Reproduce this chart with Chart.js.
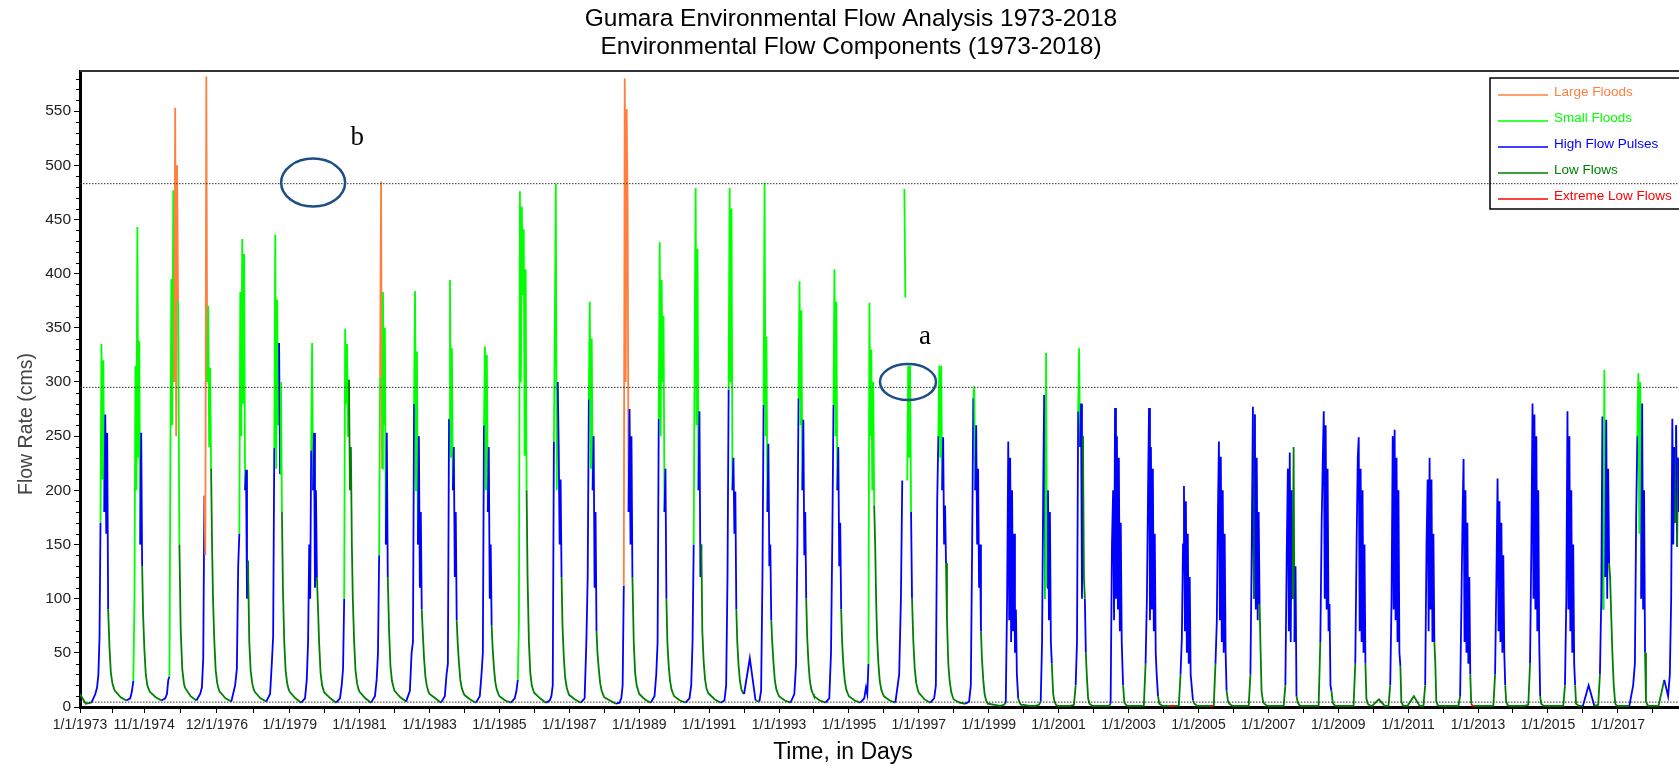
<!DOCTYPE html>
<html>
<head>
<meta charset="utf-8">
<script src="https://cdn.jsdelivr.net/npm/chart.js@4.4.1/dist/chart.umd.min.js"></script>
<style>
  html, body { margin: 0; padding: 0; background: #fff; }
  #wrap { width: 1679px; height: 766px; position: relative; }
</style>
</head>
<body>
<div id="wrap"><canvas id="flowChart"></canvas></div>
<script>
const FONT = "'Liberation Sans', Arial, sans-serif";

// one hydrograph per year, sampled on the same day-of-year grid
const dayGrid = [0, 60, 120, 160, 178, 192, 204, 214, 224, 234, 244, 254, 264, 274, 284, 294, 308, 322, 338, 355];

const years = [1973, 1974, 1975, 1976, 1977, 1978, 1979, 1980, 1981, 1982, 1983, 1984, 1985, 1986, 1987, 1988,
  1989, 1990, 1991, 1992, 1993, 1994, 1995, 1996, 1997, 1998, 1999, 2000, 2001, 2002, 2003, 2004, 2005, 2006,
  2007, 2008, 2009, 2010, 2011, 2012, 2013, 2014, 2015, 2016, 2017, 2018];

// flow rate (cms)
const yearFlows = [
  [12, 3, 4, 12, 18, 30, 65, 170, 335, 210, 320, 180, 270, 160, 253, 90, 55, 32, 22, 17],        // 1973
  [15, 9, 6, 8, 15, 24, 100, 315, 200, 443, 230, 338, 150, 253, 130, 85, 52, 30, 20, 16],        // 1974
  [14, 9, 6, 8, 12, 25, 28, 230, 395, 260, 477, 300, 553, 250, 500, 375, 150, 70, 35, 22],       // 1975
  [18, 10, 6, 12, 18, 45, 195, 140, 582, 300, 370, 240, 313, 220, 150, 100, 60, 34, 22, 16],     // 1976
  [14, 8, 5, 20, 35, 130, 160, 383, 250, 432, 280, 418, 200, 219, 100, 135, 60, 34, 22, 16],     // 1977
  [14, 8, 5, 12, 40, 65, 239, 436, 220, 376, 260, 336, 215, 300, 180, 110, 60, 34, 22, 16],      // 1978
  [14, 8, 4, 8, 25, 60, 150, 100, 237, 336, 200, 253, 110, 200, 120, 95, 58, 32, 20, 15],        // 1979
  [13, 8, 4, 8, 20, 35, 100, 349, 280, 335, 250, 302, 200, 240, 150, 100, 60, 34, 22, 16],       // 1980
  [14, 8, 4, 10, 25, 50, 140, 305, 485, 220, 383, 260, 350, 150, 253, 120, 70, 38, 24, 18],      // 1981
  [15, 9, 5, 15, 50, 60, 280, 384, 200, 328, 150, 250, 110, 180, 90, 70, 45, 28, 19, 14],        // 1982
  [12, 8, 4, 10, 30, 40, 266, 394, 230, 331, 200, 240, 120, 180, 80, 60, 40, 25, 17, 13],        // 1983
  [11, 7, 4, 10, 30, 50, 260, 333, 200, 325, 180, 240, 100, 150, 75, 55, 36, 23, 16, 12],        // 1984
  [10, 6, 4, 8, 15, 25, 80, 476, 300, 462, 380, 441, 232, 404, 200, 120, 60, 32, 20, 15],        // 1985
  [13, 8, 4, 6, 10, 20, 245, 353, 483, 200, 300, 240, 150, 210, 120, 75, 45, 27, 18, 13],        // 1986
  [11, 7, 4, 8, 60, 120, 284, 374, 220, 340, 200, 250, 110, 180, 70, 50, 35, 22, 15, 11],        // 1987
  [9, 6, 3, 4, 8, 20, 112, 580, 300, 552, 466, 180, 275, 150, 250, 120, 60, 32, 20, 15],         // 1988
  [12, 7, 4, 10, 30, 60, 266, 429, 250, 394, 300, 361, 180, 220, 100, 60, 38, 24, 16, 12],       // 1989
  [10, 6, 4, 8, 20, 60, 150, 330, 479, 260, 423, 200, 273, 120, 150, 70, 42, 26, 17, 13],        // 1990
  [12, 7, 4, 6, 20, 120, 293, 479, 300, 460, 200, 230, 160, 199, 90, 60, 38, 24, 16, 13],        // 1991
  [12, 45, 6, 5, 15, 120, 279, 484, 250, 342, 180, 243, 130, 150, 80, 60, 40, 24, 16, 12],       // 1992
  [10, 6, 4, 12, 40, 150, 285, 393, 260, 366, 200, 265, 140, 180, 100, 65, 40, 24, 16, 12],      // 1993
  [10, 6, 4, 8, 50, 160, 279, 404, 250, 374, 200, 240, 130, 170, 90, 60, 38, 24, 16, 12],        // 1994
  [10, 6, 4, 8, 18, 12, 40, 373, 250, 330, 200, 300, 186, 150, 100, 65, 40, 24, 16, 12],         // 1995
  [10, 6, 4, 30, 100, 209, null, 478, 378, null, 209, 315, 230, 315, 180, 100, 60, 36, 22, 16],  // 1996
  [13, 7, 4, 8, 20, 190, 250, 315, 230, 315, 200, 249, 150, 186, 133, 80, 40, 24, 14, 9],        // 1997
  [7, 4, 3, 5, 20, 150, 285, 296, 200, 260, 150, 220, 110, 150, 70, 45, 25, 12, 6, 3],           // 1998
  [3, 2, 1, 2, 4, 100, 245, 80, 230, 60, 200, 70, 160, 50, 90, 30, 8, 4, 2, 2],                  // 1999
  [2, 1, 1, 2, 5, 60, 200, 288, 100, 327, 110, 200, 80, 180, 60, 40, 12, 5, 2, 1],               // 2000
  [1, 1, 1, 2, 20, 60, 273, 331, 240, 280, 100, 250, 120, 100, 50, 30, 8, 3, 2, 1],              // 2001
  [1, 1, 1, 1, 3, 150, 200, 80, 276, 100, 250, 90, 230, 70, 170, 60, 20, 4, 2, 1],               // 2002
  [1, 1, 1, 1, 40, 100, 200, 276, 80, 240, 90, 220, 70, 160, 50, 30, 10, 3, 2, 1],               // 2003
  [1, 1, 1, 1, 30, 64, 150, 204, 70, 190, 50, 160, 40, 120, 30, 20, 6, 3, 2, 1],                 // 2004
  [1, 1, 1, 1, 40, 79, 180, 245, 80, 231, 60, 200, 50, 160, 51, 15, 6, 3, 2, 1],                 // 2005
  [1, 1, 1, 1, 30, 150, 277, 100, 270, 90, 230, 80, 180, 95, 53, 15, 6, 3, 2, 1],                // 2006
  [1, 1, 1, 1, 20, 140, 220, 70, 235, 60, 200, 100, 240, 60, 130, 10, 4, 2, 1, 1],               // 2007
  [1, 1, 1, 1, 60, 170, 230, 273, 100, 260, 90, 220, 70, 95, 20, 15, 4, 2, 1, 1],                // 2008
  [1, 1, 1, 1, 40, 150, 230, 249, 70, 220, 60, 200, 50, 150, 40, 8, 3, 2, 1, 1],                 // 2009
  [2, 7, 1, 1, 20, 100, 250, 90, 256, 80, 230, 60, 200, 50, 38, 5, 2, 1, 1, 1],                  // 2010
  [2, 10, 1, 1, 20, 150, 210, 70, 230, 90, 210, 60, 160, 60, 40, 5, 2, 1, 1, 1],                 // 2011
  [1, 1, 1, 1, 10, 100, 180, 229, 60, 200, 50, 170, 40, 120, 30, 3, 1, 1, 1, 1],                 // 2012
  [1, 1, 1, 1, 30, 120, 211, 70, 190, 60, 170, 50, 140, 50, 20, 5, 2, 1, 1, 1],                  // 2013
  [1, 1, 1, 2, 40, 150, 280, 100, 270, 90, 250, 70, 200, 60, 10, 3, 2, 1, 1, 1],                 // 2014
  [1, 1, 1, 1, 20, 100, 273, 90, 250, 70, 200, 50, 150, 40, 20, 3, 2, 1, 1, 1],                  // 2015
  [1, 20, 1, 2, 30, 100, 268, 90, 311, 120, 265, 100, 220, 133, 120, 90, 50, 20, 3, 1],          // 2016
  [1, 1, 1, 20, 40, 180, 250, 308, 160, 300, 100, 280, 90, 200, 50, 5, 2, 1, 1, 1],              // 2017
  [1, 1, 25, 10, 30, 100, 266, 150, 240, 170, 260, 148, 230, 180, 250, 200, 150]                 // 2018
];

// flow component of each step: L low flow, H high flow pulse, S small flood, F large flood, E extreme low
const yearComponents = [
  'LLHHHHHSSSSHHHHLLLLL', 'LLHHHSSSSSSSHHLLLLLL', 'LLHHHHSSSSSFFFFSLLLL', 'LLHHHHFFFSSSSLLLLLLL',
  'LLHHHHSSSSSSHHHLLLLL', 'LLHHHHSSSSSHSSLLLLLL', 'LLHHHHHHSSHHHHLLLLLL', 'LLHHHHSSSSSLLLLLLLLL',
  'LLHHHHSFFSSSSHHLLLLL', 'LLHHHHSSSSHHHHLLLLLL', 'LLHHHHSSSSHHHHLLLLLL', 'LLHHHHSSSSHHHHLLLLLL',
  'LLHHHSSSSSSSSSLLLLLL', 'LLHHHHSSSSHHHHLLLLLL', 'LLHHHHSSSSHHHHLLLLLL', 'LLHHHHFFFFFHHHHLLLLL',
  'LLHHHHSSSSSSHHLLLLLL', 'LLHHHHSSSSSHHHLLLLLL', 'LLHHHHSSSSHHHHLLLLLL', 'HHLHHHSSSSHHHHLLLLLL',
  'LLHHHHSSSSHHHHLLLLLL', 'LLHHHHSSSSHHHHLLLLLL', 'LLHHHHSSSSSSLLLLLLLL', 'LLHHHHSSSSSSSSHLLLLL',
  'LLHHHHSSSSHHHHLLLLLL', 'LLHHHHSSHHHHHHLLLLLL', 'LLLLHHHHHHHHHHHHLLLL', 'LLLLHHHHSSHHHHHLLLLL',
  'LLLLHHSSHHHLLHLLLLLL', 'LLLLHHHHHHHHHHHHLLLL', 'LLLLHHHHHHHHHHHHLLLL', 'LELLHHHHHHHHHHHHLLLL',
  'LLELHHHHHHHHHHHLLLLL', 'LLLLHHHLHHHHHLLLLLLL', 'LLLLHHHHHHHLLHHLLLLL', 'LLLLHHHHHHHHHHHLLLLL',
  'LLLLHHHHHHHHHHLLLLLL', 'LLLLHHHHHHHHHHLLLLLL', 'LLLLHHHHHHHHHLLLLLLL', 'LLLLHHHHHHHHHHLEELLL',
  'LLLLHHHHHHHHHHLLLLLL', 'LLLLHHHHHHHHHHLLLLLL', 'LLLLHHHHHHHHHHLLLLLL', 'HHLLHHHSSHHHHLLLLLLL',
  'LLHHHHSSSSHHHHLLLLLL', 'LLHHHHHHHLHLHHHHH'
];

const componentCodes = ['F', 'S', 'H', 'L', 'E'];
const componentNames = ['Large Floods', 'Small Floods', 'High Flow Pulses', 'Low Flows', 'Extreme Low Flows'];
const componentColors = ['#FF7F3F', '#00FF00', '#0000FF', '#008000', '#FF0000'];

const thresholdValues = [483, 295, 4.5];

const xTickLabels = ['1/1/1973', '11/1/1974', '12/1/1976', '1/1/1979', '1/1/1981', '1/1/1983', '1/1/1985',
  '1/1/1987', '1/1/1989', '1/1/1991', '1/1/1993', '1/1/1995', '1/1/1997', '1/1/1999', '1/1/2001',
  '1/1/2003', '1/1/2005', '1/1/2007', '1/1/2009', '1/1/2011', '1/1/2013', '1/1/2015', '1/1/2017'];
const yTickValues = [0, 50, 100, 150, 200, 250, 300, 350, 400, 450, 500, 550];

// circled notes on the figure: [label, x (year), y (cms), rx px, ry px, label x, label y]
const notes = [
  ['b', 1979.67, 484, 32, 24, 1980.93, 525],
  ['a', 1996.69, 300, 28, 18, 1997.18, 342]
];

const xMin = 1973;
const xMax = 2018.75;

function toYear(s) {
  const p = s.split('/').map(Number);
  const y = p[2];
  const start = Date.UTC(y, 0, 1);
  return y + (Date.UTC(y, p[0] - 1, p[1]) - start) / (Date.UTC(y + 1, 0, 1) - start);
}

// tick positions: labelled dates plus unlabelled ones halfway between
const xTicks = [];
xTickLabels.forEach((lab, i) => {
  const v = toYear(lab);
  xTicks.push({ value: v, text: lab });
  if (i < xTickLabels.length - 1) {
    xTicks.push({ value: (v + toYear(xTickLabels[i + 1])) / 2, text: '' });
  }
});
xTicks.push({ value: 2018, text: '' });

// flatten the yearly hydrographs into one series
const flowPoints = [];
const flowComp = [];
years.forEach((yr, i) => {
  yearFlows[i].forEach((v, j) => {
    flowPoints.push({ x: yr + dayGrid[j] / 365, y: v });
    flowComp.push(yearComponents[i][j]);
  });
});

function compColor(code) {
  return componentColors[componentCodes.indexOf(code)];
}

const datasets = [{
  label: 'flow',
  data: flowPoints,
  borderWidth: 1.8,
  borderColor: componentColors[3],
  pointRadius: 0,
  tension: 0,
  spanGaps: false,
  order: 2,
  segment: {
    borderColor: c => compColor(flowComp[c.p0DataIndex])
  }
}];
thresholdValues.forEach(v => {
  datasets.push({
    label: 'threshold',
    data: [{ x: xMin, y: v }, { x: xMax, y: v }],
    borderColor: '#333',
    borderWidth: 1,
    borderDash: [1.5, 1.5],
    pointRadius: 0,
    order: 1
  });
});

const overlay = {
  id: 'overlay',
  afterDatasetsDraw(chart) {
    const ctx = chart.ctx;
    const xs = chart.scales.x, ys = chart.scales.y;
    ctx.save();
    notes.forEach(n => {
      ctx.strokeStyle = '#1b4f86';
      ctx.lineWidth = 2.5;
      ctx.beginPath();
      ctx.ellipse(xs.getPixelForValue(n[1]), ys.getPixelForValue(n[2]), n[3], n[4], 0, 0, Math.PI * 2);
      ctx.stroke();
      ctx.fillStyle = '#000';
      ctx.font = "27px 'Liberation Serif', 'Times New Roman', serif";
      ctx.textAlign = 'center';
      ctx.textBaseline = 'middle';
      ctx.fillText(n[0], xs.getPixelForValue(n[5]), ys.getPixelForValue(n[6]));
    });
    ctx.restore();
  },
  afterDraw(chart) {
    const ctx = chart.ctx;
    const area = chart.chartArea;
    const ys = chart.scales.y;
    ctx.save();

    // top frame line
    ctx.strokeStyle = '#333';
    ctx.lineWidth = 2;
    ctx.beginPath();
    ctx.moveTo(area.left, area.top);
    ctx.lineTo(chart.width, area.top);
    ctx.stroke();

    // minor y ticks
    ctx.strokeStyle = '#000';
    ctx.lineWidth = 1;
    for (let v = 10; v < 587; v += 10) {
      if (v % 50 === 0) continue;
      const py = Math.round(ys.getPixelForValue(v)) + 0.5;
      ctx.beginPath();
      ctx.moveTo(area.left - 4, py);
      ctx.lineTo(area.left, py);
      ctx.stroke();
    }

    // titles
    ctx.fillStyle = '#000';
    ctx.textAlign = 'center';
    ctx.textBaseline = 'middle';
    ctx.font = '24.5px ' + FONT;
    ctx.fillText('Gumara Environmental Flow Analysis 1973-2018', 851, 19);
    ctx.fillText('Environmental Flow Components (1973-2018)', 851, 47);

    ctx.font = '23px ' + FONT;
    ctx.fillText('Time, in Days', 843, 753);

    ctx.save();
    ctx.translate(27, 424);
    ctx.rotate(-Math.PI / 2);
    ctx.fillStyle = '#444';
    ctx.font = '19.5px ' + FONT;
    ctx.fillText('Flow Rate (cms)', 0, 0);
    ctx.restore();

    // legend box
    ctx.strokeStyle = '#000';
    ctx.lineWidth = 1.5;
    ctx.strokeRect(1490, 78, 220, 131);
    ctx.font = '13.5px ' + FONT;
    ctx.textAlign = 'left';
    componentNames.forEach((name, i) => {
      const y = 92 + i * 26;
      ctx.strokeStyle = componentColors[i];
      ctx.lineWidth = 1.5;
      ctx.beginPath();
      ctx.moveTo(1498, y + 3);
      ctx.lineTo(1548, y + 3);
      ctx.stroke();
      ctx.fillStyle = componentColors[i];
      ctx.fillText(name, 1554, y);
    });
    ctx.restore();
  }
};

new Chart(document.getElementById('flowChart'), {
  type: 'line',
  data: { datasets: datasets },
  plugins: [overlay],
  options: {
    responsive: true,
    maintainAspectRatio: false,
    animation: false,
    parsing: true,
    layout: { padding: { top: 71, left: 0, right: 0, bottom: 0 } },
    plugins: {
      legend: { display: false },
      title: { display: false },
      tooltip: { enabled: false }
    },
    scales: {
      x: {
        type: 'linear',
        min: xMin,
        max: xMax,
        afterBuildTicks: s => { s.ticks = xTicks.map(t => ({ value: t.value })); },
        afterFit: s => { s.height = 59; },
        ticks: {
          autoSkip: false,
          maxRotation: 0,
          padding: 4,
          color: '#222',
          font: { size: 14, family: FONT },
          callback: (v, i) => xTicks[i] ? xTicks[i].text : ''
        },
        grid: { drawOnChartArea: false, drawTicks: true, tickLength: 6, color: '#000' },
        border: { display: true, color: '#000', width: 3 }
      },
      y: {
        min: 0,
        max: 587,
        afterBuildTicks: s => { s.ticks = yTickValues.map(v => ({ value: v })); },
        afterFit: s => { s.width = 80; },
        ticks: {
          padding: 3,
          color: '#222',
          font: { size: 15.5, family: FONT }
        },
        grid: { drawOnChartArea: false, drawTicks: true, tickLength: 6, color: '#000' },
        border: { display: true, color: '#000', width: 3 }
      }
    }
  }
});
</script>
</body>
</html>
